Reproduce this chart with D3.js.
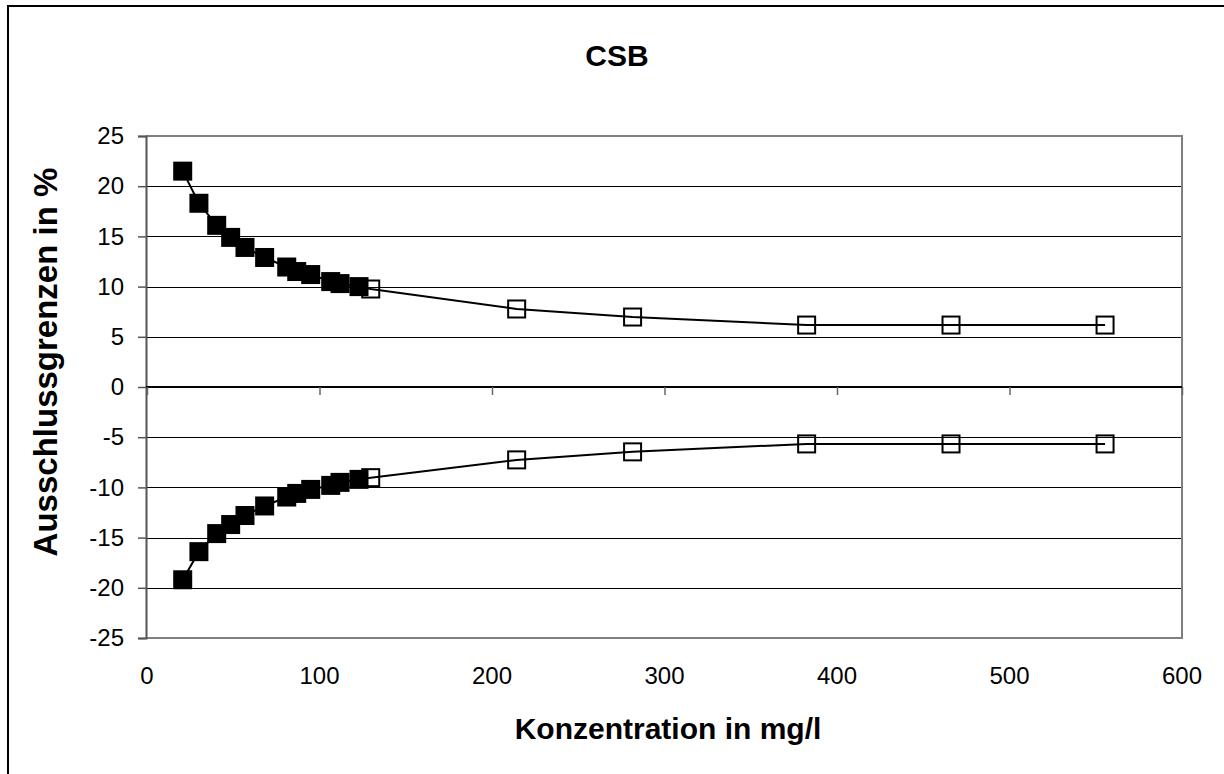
<!DOCTYPE html>
<html>
<head>
<meta charset="utf-8">
<script src="https://cdn.jsdelivr.net/npm/d3@7"></script>
<style>
  html, body { margin: 0; padding: 0; background: #fff; }
  svg { display: block; font-family: "Liberation Sans", Arial, sans-serif; }
</style>
</head>
<body>
<svg id="chart" width="1224" height="774"></svg>
<script>
// ---- data ----
const chartTitle = "CSB";
const xTitle = "Konzentration in mg/l";
const yTitle = "Ausschlussgrenzen in %";
const xTicks = [0, 100, 200, 300, 400, 500, 600];
const yTicks = [25, 20, 15, 10, 5, 0, -5, -10, -15, -20, -25];

const xFilled = [20.7, 30.1, 40.4, 48.5, 56.8, 68.2, 81.0, 86.8, 94.9, 106.5, 111.9, 122.9];
const upperFilled = [21.5, 18.3, 16.1, 14.9, 13.9, 12.9, 11.95, 11.5, 11.2, 10.5, 10.3, 10.0];
const lowerFilled = [-19.2, -16.4, -14.6, -13.7, -12.8, -11.85, -10.96, -10.6, -10.2, -9.8, -9.5, -9.2];

const xOpen = [129.7, 214.3, 281.5, 382.4, 466.1, 555.4];
const upperOpen = [9.76, 7.77, 6.97, 6.17, 6.17, 6.17];
const lowerOpen = [-9.03, -7.26, -6.46, -5.67, -5.67, -5.67];

// ---- layout ----
const svg = d3.select("#chart");
const L = 146, R = 1182, T = 136, B = 638;
const x = d3.scaleLinear().domain([0, 600]).range([L + 1, R]);
const y = d3.scaleLinear().domain([-25, 25]).range([B, T]);

// outer frame (extends beyond the picture to the right and bottom)
svg.append("path")
  .attr("d", `M8,800 L8,6 L1240,6`)
  .attr("fill", "none").attr("stroke", "#000").attr("stroke-width", 2);

// gridlines
svg.append("g").selectAll("line").data(yTicks.filter(d => d !== 25 && d !== -25)).join("line")
  .attr("x1", L).attr("x2", R)
  .attr("y1", d => Math.round(y(d)) + 0.5).attr("y2", d => Math.round(y(d)) + 0.5)
  .attr("stroke", "#000").attr("stroke-width", 1);

// plot-area border (top, right, bottom)
svg.append("path")
  .attr("d", `M${L},${T} L${R},${T} L${R},${B} L${L},${B}`)
  .attr("fill", "none").attr("stroke", "#808080").attr("stroke-width", 2);

// y axis
const yAxis = d3.axisLeft(y).tickValues(yTicks).tickSize(8).tickPadding(14).tickFormat(d3.format("d"));
const gy = svg.append("g").attr("transform", `translate(${L},0)`).call(yAxis);
gy.select(".domain").attr("stroke", "#555").attr("stroke-width", 2);
gy.selectAll(".tick line").attr("stroke", "#555").attr("stroke-width", 1.5);
gy.selectAll(".tick text").attr("font-size", 24).attr("fill", "#000")
  .attr("font-family", "Liberation Sans, Arial, sans-serif")
  .text(d => d < 0 ? "-" + Math.abs(d) : d);

// x axis at y = 0
const xAxis = d3.axisBottom(x).tickValues(xTicks).tickSize(8).tickFormat(d3.format("d"));
const gx = svg.append("g").attr("transform", `translate(0,${y(0)})`).call(xAxis);
gx.select(".domain").attr("stroke", "#000").attr("stroke-width", 2).attr("d", `M${L},0H${R}`);
gx.selectAll(".tick line").attr("stroke", "#666").attr("stroke-width", 1.5);
gx.selectAll(".tick text").remove();

// x tick labels below plot
svg.append("g").selectAll("text").data(xTicks).join("text")
  .attr("x", d => x(d)).attr("y", 684)
  .attr("text-anchor", "middle").attr("font-size", 24).attr("fill", "#000")
  .text(d => d);

// series
const line = d3.line().x(d => x(d[0])).y(d => y(d[1]));
function drawSeries(xf, yf, xo, yo) {
  const pts = xf.map((v, i) => [v, yf[i]]).concat(xo.map((v, i) => [v, yo[i]]));
  svg.append("path").datum(pts).attr("d", line)
    .attr("fill", "none").attr("stroke", "#000").attr("stroke-width", 2);
  const s = 19;
  svg.append("g").selectAll("rect").data(xf.map((v, i) => [v, yf[i]])).join("rect")
    .attr("x", d => x(d[0]) - s / 2).attr("y", d => y(d[1]) - s / 2)
    .attr("width", s).attr("height", s).attr("fill", "#000");
  const so = 17;
  svg.append("g").selectAll("rect").data(xo.map((v, i) => [v, yo[i]])).join("rect")
    .attr("x", d => x(d[0]) - so / 2).attr("y", d => y(d[1]) - so / 2)
    .attr("width", so).attr("height", so).attr("fill", "none")
    .attr("stroke", "#000").attr("stroke-width", 2);
}
drawSeries(xFilled, upperFilled, xOpen, upperOpen);
drawSeries(xFilled, lowerFilled, xOpen, lowerOpen);

// titles
svg.append("text").attr("x", 617).attr("y", 66).attr("text-anchor", "middle")
  .attr("font-size", 30).attr("font-weight", "bold").text(chartTitle);
svg.append("text").attr("x", 668).attr("y", 739).attr("text-anchor", "middle")
  .attr("font-size", 30).attr("font-weight", "bold").text(xTitle);
svg.append("text").attr("transform", `translate(57,362) rotate(-90)`).attr("text-anchor", "middle")
  .attr("font-size", 33).attr("font-weight", "bold").text(yTitle);
</script>
</body>
</html>
